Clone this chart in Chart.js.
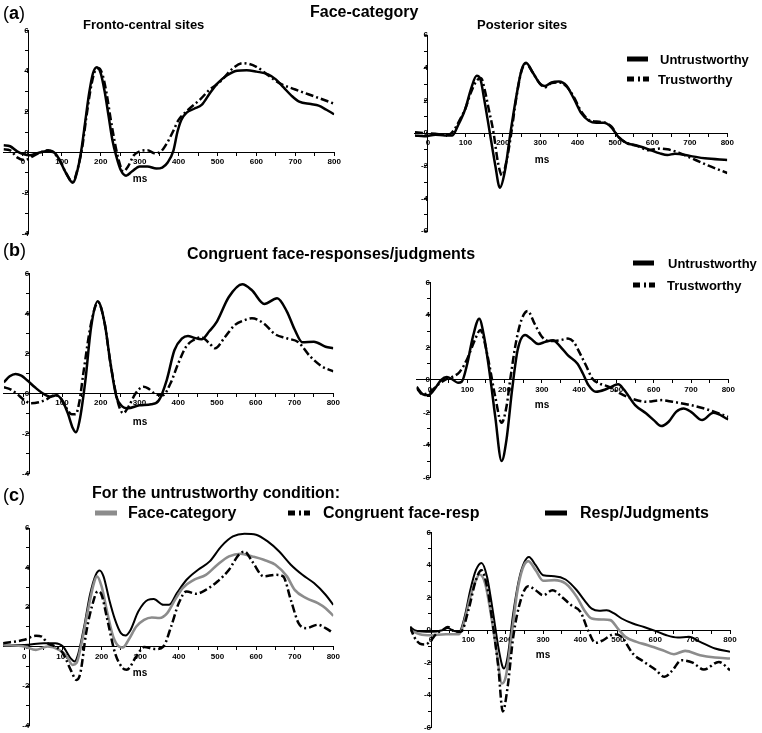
<!DOCTYPE html>
<html>
<head>
<meta charset="utf-8">
<script src="https://cdn.jsdelivr.net/npm/chart.js@4.4.1/dist/chart.umd.min.js"></script>
<style>
  body { margin: 0; background: #fff; }
  #page { position: relative; width: 762px; height: 733px; overflow: hidden; font-family: "Liberation Sans", Arial, sans-serif; color: #000; }
  #page canvas { position: absolute; }
  .t { position: absolute; white-space: nowrap; font-weight: bold; line-height: 1; transform: translateY(-50%); }
  .c { transform: translate(-50%, -50%); }
  .sw { position: absolute; height: 5px; background: #000; transform: translateY(-50%); }
</style>
</head>
<body>
<div id="page"></div>
<script>
// ERP waveforms, [ms, µV] pairs
const aLeftUntrust = [[-50,0.35],[-33,0.3],[-15,0.05],[0,-0.08],[18,-0.15],[35,-0.05],[50,0.02],[70,0.08],[85,-0.1],[97,-0.5],[110,-1.0],[128,-1.5],[140,-0.9],[150,0.1],[160,1.5],[170,2.9],[180,3.9],[190,4.2],[200,3.9],[210,3.0],[220,1.8],[230,0.6],[240,-0.2],[252,-0.9],[265,-1.15],[280,-0.95],[300,-0.7],[320,-0.7],[343,-0.8],[358,-0.75],[372,-0.5],[387,0.1],[397,1.0],[407,1.6],[420,1.95],[440,2.15],[460,2.35],[480,2.9],[500,3.4],[525,3.8],[550,4.02],[575,4.05],[600,3.98],[630,3.85],[650,3.6],[670,3.2],[690,2.8],[710,2.5],[740,2.38],[760,2.3],[780,2.1],[800,1.88]];
const aLeftTrust = [[-50,0.15],[-33,0.1],[-15,-0.25],[5,-0.38],[25,-0.2],[45,0.0],[65,0.1],[80,-0.05],[95,-0.4],[110,-1.0],[128,-1.45],[142,-0.7],[152,0.2],[162,1.6],[172,2.9],[183,3.9],[195,4.15],[205,3.8],[215,2.9],[225,1.7],[235,0.6],[245,-0.3],[258,-0.95],[270,-0.7],[285,-0.15],[300,0.05],[320,0.1],[340,-0.05],[355,0.05],[370,0.45],[385,1.0],[400,1.6],[425,2.1],[455,2.6],[480,3.1],[505,3.45],[540,4.15],[565,4.4],[600,4.22],[630,3.8],[660,3.4],[700,3.1],[750,2.75],[800,2.4]];
const aRightUntrust = [[-35,-0.15],[-10,-0.2],[20,-0.1],[45,-0.15],[65,-0.15],[80,0.45],[100,1.5],[115,2.7],[130,3.5],[140,3.3],[150,2.1],[165,0.05],[180,-2.0],[192,-3.35],[205,-2.4],[220,-0.05],[235,2.1],[250,3.85],[262,4.3],[280,3.7],[300,3.0],[312,2.87],[330,3.1],[350,3.15],[370,2.9],[390,2.1],[410,1.2],[430,0.75],[450,0.62],[470,0.62],[490,0.35],[510,-0.27],[530,-0.6],[560,-0.78],[590,-1.0],[620,-1.25],[640,-1.35],[660,-1.27],[700,-1.4],[740,-1.55],[800,-1.65]];
const aRightTrust = [[-35,0.05],[-10,0.0],[20,-0.05],[45,-0.1],[60,-0.05],[70,0.2],[85,0.8],[100,1.5],[115,2.5],[130,3.2],[142,3.35],[152,2.6],[162,1.5],[175,0.05],[187,-1.8],[198,-2.6],[210,-1.7],[222,-0.1],[235,2.0],[250,3.8],[262,4.25],[280,3.7],[300,3.0],[312,2.8],[330,3.05],[350,3.1],[370,2.85],[390,2.2],[410,1.3],[430,0.8],[450,0.7],[470,0.65],[490,0.4],[510,-0.25],[530,-0.6],[560,-0.8],[590,-1.05],[620,-0.95],[640,-1.0],[670,-1.2],[700,-1.5],[750,-2.0],[800,-2.45]];
const bLeftUntrust = [[-50,0.55],[-35,0.85],[-20,0.97],[-5,0.88],[10,0.65],[30,0.3],[50,0.0],[70,-0.17],[85,-0.1],[100,-0.35],[115,-1.0],[128,-1.75],[136,-1.95],[145,-1.4],[160,0.6],[175,3.3],[192,4.6],[210,3.5],[225,1.5],[240,-0.15],[255,-0.65],[270,-0.75],[300,-0.6],[330,-0.55],[350,-0.35],[370,0.65],[390,2.15],[410,2.75],[425,2.87],[440,2.78],[460,2.7],[480,3.1],[500,3.6],[530,4.8],[565,5.45],[590,5.15],[622,4.47],[655,4.75],[680,4.1],[700,3.2],[720,2.55],[750,2.58],[780,2.33],[800,2.25]];
const bLeftTrust = [[-50,0.3],[-33,0.2],[-15,-0.05],[0,-0.3],[20,-0.5],[40,-0.45],[60,-0.3],[80,-0.1],[95,-0.2],[110,-0.7],[125,-1.05],[135,-1.05],[145,-0.4],[155,1.0],[175,3.5],[193,4.55],[210,3.5],[225,1.5],[245,-0.5],[258,-1.0],[272,-0.65],[290,0.0],[310,0.33],[322,0.25],[340,-0.03],[360,-0.1],[380,0.5],[400,1.5],[420,2.33],[440,2.67],[460,2.8],[480,2.5],[495,2.25],[520,2.8],[545,3.4],[570,3.65],[590,3.75],[620,3.5],[650,2.95],[680,2.75],[710,2.55],[740,1.85],[770,1.35],[800,1.1]];
const bRightUntrust = [[-36,-0.43],[-20,-0.88],[-5,-0.95],[10,-0.64],[30,0.0],[45,0.18],[60,0.02],[75,-0.18],[85,-0.12],[100,1.0],[115,2.65],[132,3.75],[145,2.65],[160,0.4],[175,-2.28],[192,-5.0],[205,-3.7],[220,-0.64],[235,1.83],[255,2.75],[270,2.54],[290,2.2],[310,2.34],[330,2.44],[350,2.03],[370,1.5],[395,1.0],[410,0.39],[425,-0.33],[445,-0.74],[470,-0.6],[490,-0.39],[505,-0.27],[520,-0.6],[550,-1.56],[580,-2.07],[600,-2.48],[620,-2.85],[640,-2.58],[660,-1.97],[680,-1.76],[700,-1.97],[730,-2.48],[760,-2.03],[800,-2.44]];
const bRightTrust = [[-36,-0.5],[-20,-0.9],[0,-0.74],[20,-0.33],[40,0.0],[60,0.18],[80,0.5],[100,1.3],[120,2.44],[135,3.06],[145,2.44],[160,0.8],[175,-1.05],[192,-2.65],[205,-1.66],[215,0.0],[230,2.24],[245,3.67],[262,4.23],[280,3.47],[300,2.65],[320,2.38],[350,2.44],[370,2.54],[385,2.34],[400,1.72],[420,0.8],[435,0.08],[455,-0.23],[480,-0.43],[510,-0.84],[540,-1.15],[580,-1.35],[620,-1.25],[650,-1.35],[700,-1.56],[750,-1.87],[800,-2.28]];
const cLeftFace = [[-55,0.08],[0,0.0],[30,-0.17],[60,0.0],[90,-0.17],[110,-0.5],[125,-0.93],[135,-0.84],[150,0.34],[165,1.86],[180,3.2],[188,3.55],[200,3.04],[215,1.69],[230,0.5],[245,0.0],[255,-0.05],[270,0.34],[290,1.01],[310,1.35],[330,1.47],[350,1.44],[370,1.69],[390,2.36],[410,2.96],[440,3.38],[470,3.63],[500,4.14],[530,4.56],[560,4.7],[590,4.56],[620,4.39],[650,4.14],[680,3.55],[700,2.87],[730,2.45],[760,2.2],[780,1.94],[800,1.55]];
const cLeftCongruent = [[-55,0.17],[0,0.34],[30,0.54],[45,0.5],[60,0.17],[80,0.0],[100,-0.34],[120,-1.18],[135,-1.69],[145,-1.35],[160,0.68],[175,2.03],[190,2.79],[200,2.62],[215,1.35],[235,-0.34],[255,-1.1],[265,-1.18],[290,-0.5],[310,-0.03],[340,-0.13],[360,0.0],[380,1.01],[400,2.2],[420,2.79],[445,2.67],[470,2.87],[500,3.29],[530,3.89],[555,4.64],[570,4.81],[590,4.31],[620,3.55],[650,3.63],[670,3.55],[690,2.36],[710,1.18],[730,0.93],[760,1.1],[780,0.93],[800,0.68]];
const cLeftResp = [[-55,0.08],[0,0.08],[50,0.17],[80,0.17],[100,0.0],[120,-0.6],[130,-0.76],[140,-0.34],[155,1.01],[170,2.62],[185,3.63],[195,3.85],[205,3.55],[220,2.36],[235,1.35],[250,0.68],[262,0.56],[275,0.84],[295,1.77],[320,2.36],[335,2.4],[360,2.11],[375,2.11],[395,2.7],[420,3.38],[450,3.89],[480,4.31],[510,5.07],[540,5.57],[570,5.71],[600,5.66],[630,5.32],[660,4.81],[690,4.14],[720,3.63],[750,3.21],[780,2.62],[800,2.11]];
const cRightFace = [[-56,0.0],[-30,-0.25],[0,-0.31],[40,-0.25],[75,-0.25],[90,0.62],[105,2.05],[120,3.08],[130,3.43],[145,2.87],[160,1.03],[175,-1.23],[190,-3.28],[200,-2.87],[215,-0.41],[230,2.26],[245,3.79],[260,4.25],[280,3.69],[300,3.04],[330,3.08],[360,2.87],[390,2.05],[410,1.23],[430,0.72],[460,0.66],[480,0.62],[500,0.1],[520,-0.41],[550,-0.72],[580,-0.92],[620,-1.23],[650,-1.48],[680,-1.27],[720,-1.54],[760,-1.68],[800,-1.74]];
const cRightCongruent = [[-56,0.2],[-45,-0.41],[-30,-0.82],[-15,-0.88],[0,-0.62],[15,-0.2],[30,0.0],[45,0.2],[60,-0.04],[80,-0.1],[100,1.23],[120,3.08],[135,3.69],[150,2.67],[165,0.41],[180,-2.26],[192,-5.0],[205,-3.49],[220,-0.41],[240,1.85],[260,2.71],[280,2.46],[300,2.15],[325,2.46],[350,2.05],[375,1.54],[400,1.13],[420,0.0],[440,-0.78],[460,-0.62],[490,-0.25],[510,-0.41],[540,-1.44],[570,-1.95],[600,-2.42],[625,-2.87],[645,-2.5],[670,-1.85],[700,-2.0],[730,-2.42],[770,-1.95],[800,-2.46]];
const cRightResp = [[-56,0.2],[-40,-0.04],[0,-0.1],[30,0.0],[45,0.14],[60,-0.04],[75,-0.1],[90,0.82],[105,2.46],[120,3.69],[135,4.14],[150,3.28],[165,1.23],[180,-1.03],[190,-2.15],[195,-2.36],[205,-1.64],[220,1.03],[235,3.08],[250,4.2],[262,4.51],[280,4.0],[300,3.38],[330,3.32],[360,3.12],[390,2.46],[410,1.85],[430,1.33],[450,1.19],[470,1.23],[490,1.03],[510,0.72],[540,0.41],[570,0.2],[600,-0.04],[630,-0.31],[660,-0.45],[690,-0.41],[720,-0.72],[760,-1.13],[800,-1.33]];

const xTickLabels = [0, 100, 200, 300, 400, 500, 600, 700, 800];

const styles = {
  solid: { borderColor: '#000', borderWidth: 2.5, borderDash: [] },
  dash:  { borderColor: '#000', borderWidth: 2.5, borderDash: [8, 3, 2, 3] },
  gray:  { borderColor: '#8c8c8c', borderWidth: 2.6, borderDash: [] },
  thin:  { borderColor: '#000', borderWidth: 2.0, borderDash: [] }
};

// pixel box of each plot area on the page
const panels = [
  { left: 3.5,   right: 334.2, top: 30.7,  bottom: 233.4, xMin: -50, yMin: -4, yMax: 6, yAt: 15, lines: [[aLeftTrust, 'dash'], [aLeftUntrust, 'solid']] },
  { left: 414.9, right: 727.3, top: 35,    bottom: 231,   xMin: -35, yMin: -6, yMax: 6, yAt: 0,  lines: [[aRightTrust, 'dash'], [aRightUntrust, 'solid']] },
  { left: 3.9,   right: 333.3, top: 273.3, bottom: 473.3, xMin: -50, yMin: -4, yMax: 6, yAt: 15, lines: [[bLeftTrust, 'dash'], [bLeftUntrust, 'solid']] },
  { left: 416.6, right: 728.3, top: 282.3, bottom: 477.3, xMin: -36, yMin: -6, yMax: 6, yAt: 0,  lines: [[bRightTrust, 'dash'], [bRightUntrust, 'solid']] },
  { left: 3.1,   right: 333.3, top: 528,   bottom: 725.5, xMin: -55, yMin: -4, yMax: 6, yAt: 13, lines: [[cLeftCongruent, 'dash'], [cLeftFace, 'gray'], [cLeftResp, 'thin']] },
  { left: 410.1, right: 730,   top: 532.7, bottom: 727.7, xMin: -56, yMin: -6, yMax: 6, yAt: 0,  lines: [[cRightCongruent, 'dash'], [cRightFace, 'gray'], [cRightResp, 'thin']] }
];

const page = document.getElementById('page');
const tickFont = { family: '"Liberation Sans", Arial, sans-serif', size: 8, weight: 'bold' };

function makePanel(p) {
  const cx = Math.floor(Math.max(0, p.left - 30));
  const cy = Math.floor(p.top - 12);
  const W = Math.ceil(p.right + 16) - cx;
  const H = Math.ceil(p.bottom + 12) - cy;
  const cv = document.createElement('canvas');
  cv.width = W; cv.height = H;
  cv.style.left = cx + 'px'; cv.style.top = cy + 'px';
  cv.style.width = W + 'px'; cv.style.height = H + 'px';
  page.appendChild(cv);

  new Chart(cv, {
    type: 'line',
    data: {
      datasets: p.lines.map(([pts, st]) => Object.assign({
        data: pts.map(([x, y]) => ({ x, y })),
        pointRadius: 0,
        fill: false,
        cubicInterpolationMode: 'monotone'
      }, styles[st]))
    },
    options: {
      responsive: false,
      animation: false,
      events: [],
      layout: { padding: { left: p.left - cx, top: p.top - cy, right: cx + W - p.right, bottom: cy + H - p.bottom } },
      plugins: { legend: { display: false }, tooltip: { enabled: false } },
      scales: {
        x: {
          type: 'linear', min: p.xMin, max: 800, position: { y: 0 },
          afterBuildTicks: s => {
            const t = [];
            for (let v = 0; v <= 800; v += 50) t.push({ value: v });
            s.ticks = t;
          },
          ticks: { autoSkip: false, maxRotation: 0, color: '#000', font: tickFont, padding: 2,
                   callback: v => xTickLabels.includes(v) ? String(v) : '' },
          grid: { drawOnChartArea: false, color: '#000', tickLength: 3 },
          border: { color: '#000', width: 1 }
        },
        y: {
          type: 'linear', min: p.yMin, max: p.yMax, position: { x: p.yAt },
          afterBuildTicks: s => {
            const t = [];
            for (let v = p.yMin; v <= p.yMax; v++) t.push({ value: v });
            s.ticks = t;
          },
          ticks: { autoSkip: false, color: '#000', font: tickFont, padding: 2,
                   callback: v => v % 2 === 0 ? String(v) : '' },
          grid: { drawOnChartArea: false, color: '#000', tickLength: 3 },
          border: { color: '#000', width: 1 }
        }
      }
    }
  });
}
panels.forEach(makePanel);

// texts
function text(str, x, y, size, cls, weight) {
  const d = document.createElement('div');
  d.className = 't' + (cls ? ' ' + cls : '');
  d.style.left = x + 'px'; d.style.top = y + 'px';
  d.style.fontSize = size + 'px';
  if (weight) d.style.fontWeight = weight;
  d.innerHTML = str;
  page.appendChild(d);
}
function swatch(x, y, w, color) {
  const d = document.createElement('div');
  d.className = 'sw';
  d.style.left = x + 'px'; d.style.top = y + 'px'; d.style.width = w + 'px';
  if (color) d.style.background = color;
  page.appendChild(d);
}
function dashSwatch(x, y) {
  swatch(x, y, 7); swatch(x + 11, y, 2); swatch(x + 16, y, 6);
}

text('(<b>a</b>)', 3, 13, 18, '', 'normal');
text('Face-category', 310, 12, 16);
text('Fronto-central sites', 83, 24, 13);
text('Posterior sites', 477, 24, 13);
swatch(627, 59, 21); text('Untrustworthy', 660, 59, 13);
dashSwatch(627, 79); text('Trustworthy', 658, 79, 13);

text('(<b>b</b>)', 3, 250, 18, '', 'normal');
text('Congruent face-responses/judgments', 187, 254, 16);
swatch(633, 263, 21); text('Untrustworthy', 668, 263, 13);
dashSwatch(633, 285); text('Trustworthy', 667, 285, 13);

text('(<b>c</b>)', 3, 495, 18, '', 'normal');
text('For the untrustworthy condition:', 92, 493, 16);
swatch(95, 513, 22, '#8c8c8c'); text('Face-category', 128, 513, 16);
dashSwatch(288, 513); text('Congruent face-resp', 323, 513, 16);
swatch(545, 513, 22); text('Resp/Judgments', 580, 513, 16);

[[140, 179], [542, 160], [140, 422], [542, 405], [140, 673], [543, 655]].forEach(([x, y]) => text('ms', x, y, 10, 'c'));
</script>
</body>
</html>
